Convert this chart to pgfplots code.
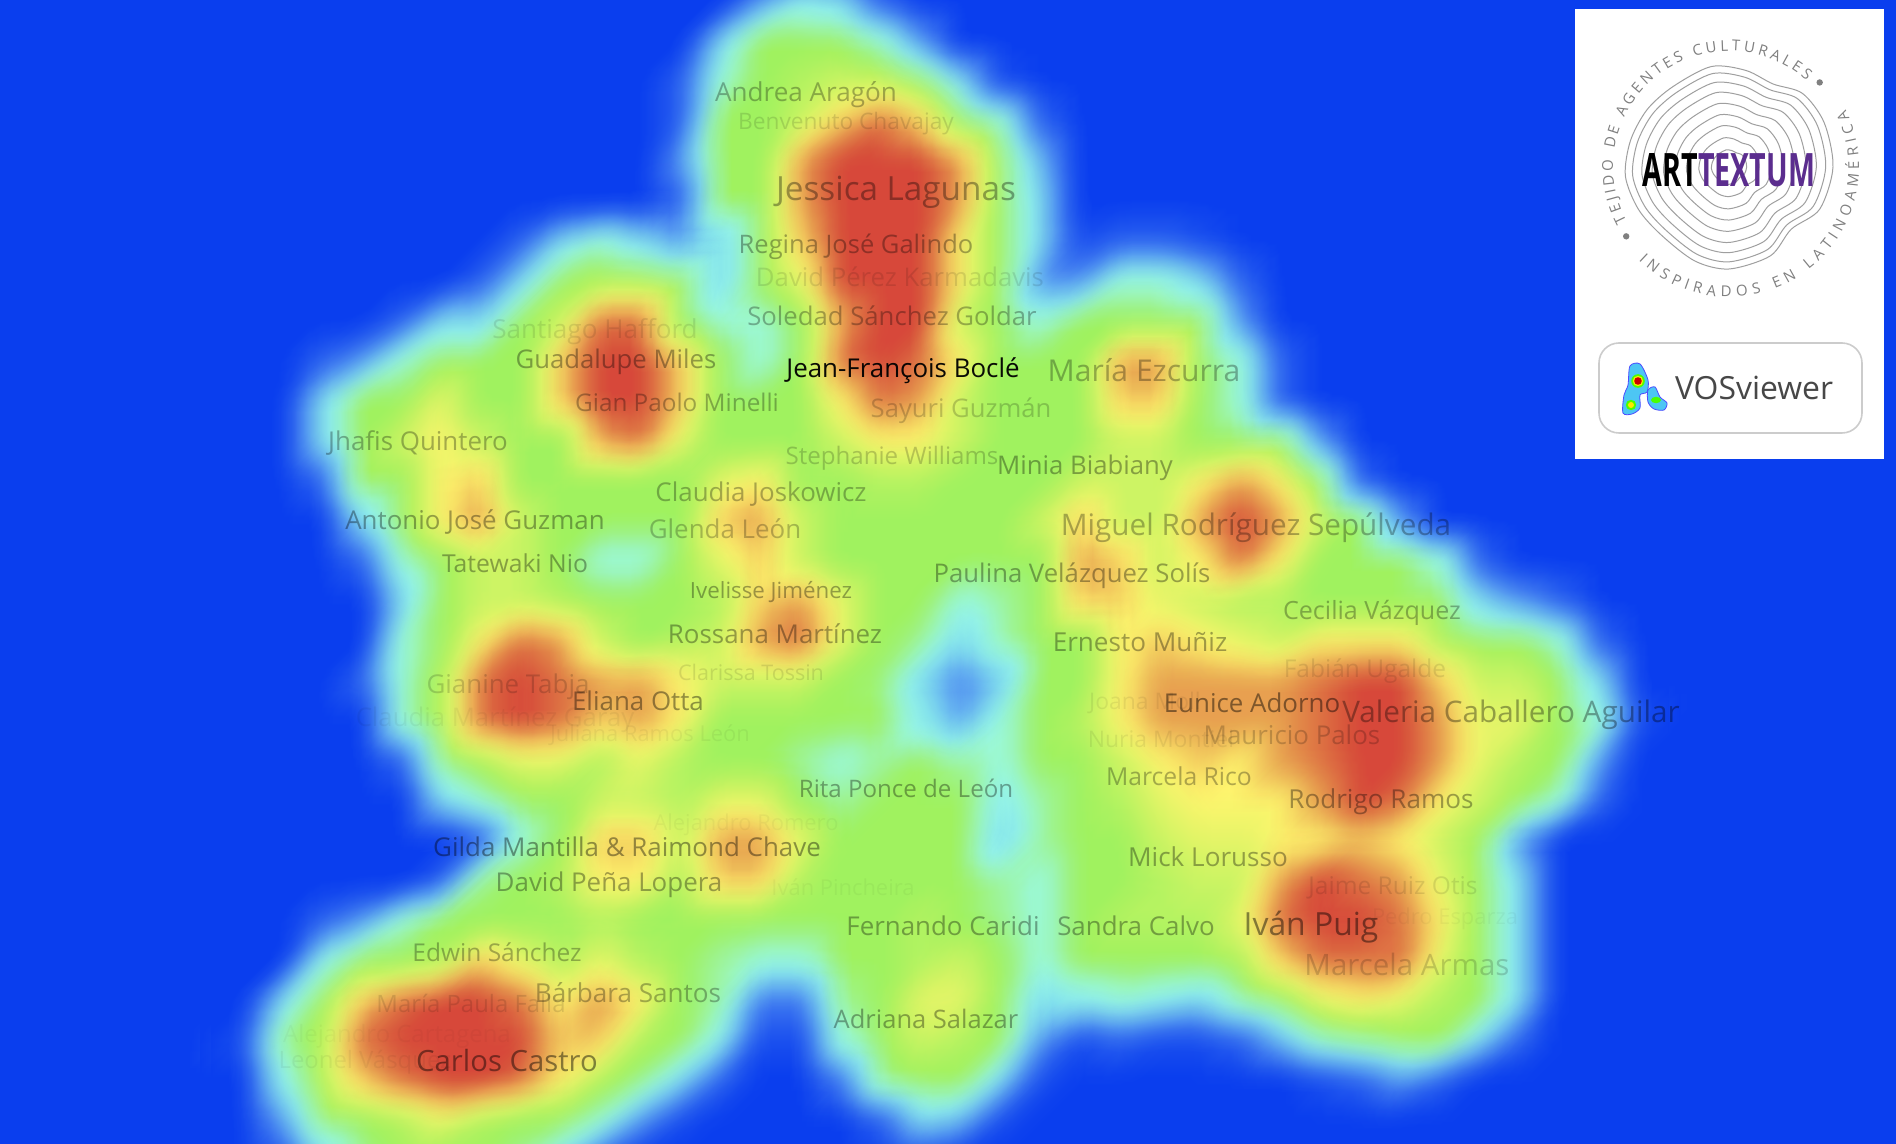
\documentclass[border=0pt]{standalone}
\usepackage{fontspec}
\setmainfont{Open Sans}
\usepackage{pgfplots}
\usepackage{pgfplotstable}
\pgfplotsset{compat=1.18}
\usetikzlibrary{decorations.text}
\usepgfplotslibrary{patchplots}
\definecolor{bg}{RGB}{10,62,238}
\definecolor{purp}{RGB}{91,45,142}
\newcommand{\lab}[5]{\node[opacity=#4,text=black,inner sep=0pt,yshift=-1bp,font=\fontsize{#3}{#3}\selectfont] at (axis cs:#1,#2) {#5};}
\newcommand{\den}[3]{\addplot[surf,shader=interp,mesh/cols=38,point meta=explicit,opacity=#3,fill opacity=#3] table[x index=0,y index=0,x expr={200+(#1)+40*mod(\coordindex,38)},y expr={(#2)-40+40*floor((\coordindex+0.5)/38)},meta index=0] {\density};}
\pgfplotstableread[header=false,row sep=\\]{
0\\0\\0\\0\\0\\0\\0\\0\\0\\0\\
0\\0\\0\\0\\0\\0\\0\\0\\0\\0\\
0\\0\\0\\0\\0\\0\\0\\0\\0\\0\\
0\\0\\0\\0\\0\\0\\0\\0\\
0\\0\\0\\0\\0\\0\\0\\0\\0\\0\\
0\\0\\0\\0\\
2\\3.5\\3\\1\\
0\\0\\0\\0\\0\\0\\0\\0\\0\\0\\
0\\0\\0\\0\\0\\0\\0\\0\\0\\0\\
0\\0\\0\\0\\0\\0\\0\\0\\0\\0\\
0\\0\\0\\
3\\5\\5\\5\\4\\2\\
0\\0\\0\\0\\0\\0\\0\\0\\0\\0\\
0\\0\\0\\0\\0\\0\\0\\0\\0\\
0\\0\\0\\0\\0\\0\\0\\0\\0\\0\\
0\\0\\
1\\4\\5\\5.5\\6\\6\\5\\3\\0.5\\
0\\0\\0\\0\\0\\0\\0\\0\\0\\0\\
0\\0\\0\\0\\0\\0\\0\\
0\\0\\0\\0\\0\\0\\0\\0\\0\\0\\
0\\0\\
1\\5\\5\\6\\7.5\\8.5\\7.5\\5\\4\\1\\
0\\0\\0\\0\\0\\0\\0\\0\\0\\0\\
0\\0\\0\\0\\0\\0\\
0\\0\\0\\0\\0\\0\\0\\0\\0\\0\\
0\\0\\
2\\5\\5\\8\\9\\9\\9\\8\\5\\2.5\\
0\\0\\0\\0\\0\\0\\0\\0\\0\\0\\
0\\0\\0\\0\\0\\0\\
0\\0\\0\\0\\0\\0\\0\\0\\0\\0\\
0\\0\\
1\\5\\5\\8\\9\\9\\9\\8\\5\\3\\
0\\0\\0\\0\\0\\0\\0\\0\\0\\0\\
0\\0\\0\\0\\0\\0\\
0\\0\\0\\0\\0\\0\\0\\0\\
1\\3\\4\\3\\2\\3\\5\\7.5\\9\\9\\9\\7\\5\\3\\0.5\\1\\1\\0.5\\
0\\0\\0\\0\\0\\0\\0\\0\\0\\0\\
0\\0\\
0\\0\\0\\0\\0\\0\\0\\
1\\3\\5\\5.5\\5.5\\5\\3\\5\\6.5\\9\\9\\9\\7\\5\\2\\2\\4\\4\\3\\1\\
0\\0\\0\\0\\0\\0\\0\\0\\0\\0\\
0\\
0\\0\\0\\0\\0\\
1\\3\\3\\5\\6\\8.5\\8.5\\5\\4\\4\\5\\8\\9\\9\\6\\5\\4\\5\\5\\5\\5\\2\\
0\\0\\0\\0\\0\\0\\0\\0\\0\\0\\
0\\
0\\0\\0\\1\\2\\4\\5\\5\\5\\7.5\\9\\9\\7.5\\5\\4\\5\\8.5\\9\\8.5\\7\\5\\5\\5\\8\\8\\5\\4\\1\\0\\0\\0\\0\\0\\0\\0\\0\\0\\0\\
0\\0\\0\\3\\5\\5\\6.5\\5\\5\\7.5\\9\\9\\7.5\\5\\5\\5\\7\\8.5\\8\\6\\5\\5\\5\\7.5\\7.5\\5\\4\\1\\0\\0\\0\\0\\0\\0\\0\\0\\0\\0\\
0\\0\\0\\3\\5\\6\\7\\6\\5\\5\\8\\8.5\\6.5\\5\\5\\5\\6\\7\\7\\6\\5\\5\\5\\6\\6\\5\\5\\5\\2\\0\\0\\0\\0\\0\\0\\0\\0\\0\\
0\\0\\0\\1\\5\\5\\7\\7.5\\5\\5\\5\\5\\5\\6.5\\7\\5\\5\\5.5\\5.5\\5\\5\\5\\6\\6\\6\\7\\8\\7\\5\\1\\0\\0\\0\\0\\0\\0\\0\\0\\
0\\0\\0\\0\\3\\5\\7\\8\\6\\5\\5\\5\\5\\7.5\\8\\6\\5\\5\\5\\5\\5\\6\\7.5\\6\\6\\8\\9\\8\\6\\5\\2\\0\\0\\0\\0\\0\\0\\0\\
0\\0\\0\\0\\1\\4\\5\\6\\6\\5\\4\\4\\5\\6.5\\7.5\\6\\5\\5\\5\\5\\5\\5\\8\\7.5\\6\\7\\8.5\\7\\5\\5\\5\\4\\1\\0\\0\\0\\0\\0\\
0\\0\\0\\0\\0\\3\\5\\6\\6\\5.5\\5\\5\\5\\5.5\\7.5\\8\\6.5\\5\\5\\4\\4.5\\5\\7.5\\7.5\\6.5\\6\\5.5\\5.5\\5\\5\\5\\5\\3\\2\\1\\0\\0\\0\\
0\\0\\0\\0\\0\\4\\5\\7\\8.5\\8\\6\\5\\5.5\\6\\8\\8.5\\6.5\\5\\4.6\\3\\4.4\\5\\5\\7\\7.5\\7\\6.5\\6\\7\\7\\7\\5.5\\5\\5\\4\\1\\0\\0\\
0\\0\\0\\0\\1\\4\\5.5\\8.5\\9\\8.5\\8\\8\\7\\6\\6\\6\\5\\4.8\\3\\1.8\\2.8\\5\\5\\7\\8\\8\\8\\8\\8.5\\9\\9\\7.5\\6\\6\\5\\3\\0\\0\\
0\\0\\0\\0\\0\\4\\5.5\\8.5\\9\\8.5\\7.5\\8\\7\\5\\5\\5\\5\\5\\3.5\\2.2\\4\\5\\5.5\\7\\8\\8\\8\\8\\8.5\\9\\9\\8\\6.5\\6.5\\5\\4\\0.5\\0\\
0\\0\\0\\0\\0\\1\\4.6\\5.5\\6.5\\6.5\\5.5\\6.5\\5.5\\5\\5\\4.5\\4\\4.5\\5\\4.5\\4\\5\\5\\6\\7\\7.5\\7\\8\\8.5\\9\\9\\8\\6.5\\5.5\\5\\2\\0\\0\\
0\\0\\0\\0\\0\\0\\3\\4\\5\\5\\6\\6\\5.5\\6.5\\6.5\\5\\4.5\\5\\5\\5\\3.5\\4.5\\5\\5.5\\6.5\\7\\7\\7\\8\\9\\8.5\\7\\6\\5\\4\\1\\0\\0\\
0\\0\\0\\0\\0\\0\\0\\1\\4\\5\\7.5\\7.5\\6\\8\\8\\6.5\\5\\5\\5\\5\\3\\4.5\\5\\5\\6\\6.5\\6.5\\7\\7\\7.5\\7\\6\\5\\2\\0\\0\\0\\0\\
0\\0\\0\\0\\0\\0\\1\\4.6\\5\\5.5\\7\\7\\5.5\\7.5\\7.5\\5.5\\5\\5\\5\\5\\4.5\\4\\5\\5\\5.5\\6\\6\\8\\9\\8.5\\8\\6.5\\5\\3\\0\\0\\0\\0\\
0\\0\\0\\1\\2\\4\\5\\5\\5\\5\\5.5\\5\\5\\5\\5\\5\\5\\5\\5.5\\5\\4.6\\4\\5\\5.5\\5.5\\5.5\\6.5\\8.5\\9\\9\\8.5\\7\\5\\3\\0\\0\\0\\0\\
0\\0\\0\\3.5\\5\\5\\5.5\\7.5\\6.5\\5.5\\6.5\\5.5\\5\\4.5\\4\\4\\5\\5\\5.5\\6\\5\\4\\5\\5\\5\\5\\5.5\\7.5\\8.5\\8.5\\8.5\\6.5\\5\\3\\0\\0\\0\\0\\
0\\0\\3\\5\\7.5\\8.5\\9\\9\\8.5\\7\\8\\7\\5\\4.4\\1.5\\1.5\\4.6\\5\\6.5\\6.5\\5\\3\\3.5\\4\\3.5\\3\\4.3\\5\\6.5\\7\\6.5\\5.5\\5\\3\\0\\0\\0\\0\\
0\\0.5\\4.4\\5.5\\8.5\\9\\9\\9\\9\\7.5\\7.5\\5.5\\5\\3.5\\0.5\\0.5\\4\\5\\6\\5.5\\5\\2\\0.5\\1\\0.5\\0.5\\1\\2.5\\4\\4.5\\5\\5\\3\\1\\0\\0\\0\\0\\
0\\0\\3.5\\5.5\\7.5\\8.5\\9\\9\\8.5\\7\\5.5\\4.6\\3\\1\\0\\0\\1.5\\4.5\\5\\5\\3\\0.5\\0\\0\\0\\0\\0\\0\\0.5\\1\\2\\1\\0\\0\\0\\0\\0\\0\\
0\\0\\2\\4.7\\5\\5.5\\6.5\\5.5\\5\\5\\4\\2\\0.5\\
0\\0\\0\\0\\
1\\3\\2.5\\0.5\\
0\\0\\0\\0\\0\\0\\0\\0\\0\\0\\
0\\0\\0\\0\\0\\0\\0\\
0\\0\\0.5\\3\\4.5\\5\\5\\5\\4.5\\3\\1\\
0\\0\\0\\0\\0\\0\\0\\
0.5\\
0\\0\\0\\0\\0\\0\\0\\0\\0\\0\\
0\\0\\0\\0\\0\\0\\0\\0\\0\\
}\density
\begin{document}
\begin{tikzpicture}
\useasboundingbox (0,0) rectangle (948bp,572bp);
\begin{axis}[at={(0,0)},anchor=south west,scale only axis,width=948bp,height=572bp,
  xmin=0,xmax=1896,ymin=0,ymax=1144,y dir=reverse,hide axis,
  colormap={vos}{rgb255=(10,62,238) rgb255=(45,100,240) rgb255=(85,150,240) rgb255=(130,225,240) rgb255=(155,250,230) rgb255=(160,242,95) rgb255=(205,244,100) rgb255=(255,245,110) rgb255=(232,160,80) rgb255=(215,72,58)},
  point meta min=0,point meta max=9]
\fill[bg] (axis cs:0,0) rectangle (axis cs:1896,1144);
\den{-11.5}{-11.5}{1}
\den{0}{-11.5}{.5}
\den{11.5}{-11.5}{.3333}
\den{-11.5}{0}{.25}
\den{0}{0}{.2}
\den{11.5}{0}{.1667}
\den{-11.5}{11.5}{.1429}
\den{0}{11.5}{.125}
\den{11.5}{11.5}{.1111}
\lab{806}{93}{13.1}{.3}{Andrea Aragón}
\lab{846}{122}{11.4}{.13}{Benvenuto Chavajay}
\lab{896}{190}{16.7}{.35}{Jessica Lagunas}
\lab{856}{245}{12.8}{.33}{Regina José Galindo}
\lab{900}{275}{12.9}{.11}{David Pérez Karmadavis}
\lab{892}{314}{12.9}{.3}{Soledad Sánchez Goldar}
\lab{903}{369}{13}{.95}{Jean-François Boclé}
\lab{1144}{368}{15.1}{.3}{María Ezcurra}
\lab{961}{409}{12.85}{.2}{Sayuri Guzmán}
\lab{595}{330}{13.1}{.1}{Santiago Hafford}
\lab{616}{360}{12.9}{.35}{Guadalupe Miles}
\lab{677}{400}{12.2}{.3}{Gian Paolo Minelli}
\lab{418}{441}{13}{.3}{Jhafis Quintero}
\lab{892}{456}{12.1}{.2}{Stephanie Williams}
\lab{1085}{466}{12.9}{.35}{Minia Biabiany}
\lab{761}{492}{13}{.3}{Claudia Joskowicz}
\lab{475}{520}{13}{.35}{Antonio José Guzman}
\lab{725}{527}{13}{.25}{Glenda León}
\lab{1256}{526}{14.9}{.3}{Miguel Rodríguez Sepúlveda}
\lab{515}{561}{12.4}{.35}{Tatewaki Nio}
\lab{1072}{574}{12.9}{.35}{Paulina Velázquez Solís}
\lab{771}{590}{11.2}{.35}{Ivelisse Jiménez}
\lab{1372}{611}{12.6}{.3}{Cecilia Vázquez}
\lab{775}{632}{13}{.35}{Rossana Martínez}
\lab{1140}{640}{13.1}{.35}{Ernesto Muñiz}
\lab{751}{670}{10.8}{.11}{Clarissa Tossin}
\lab{1365}{669}{12.3}{.1}{Fabián Ugalde}
\lab{508}{685}{13}{.17}{Gianine Tabja}
\lab{638}{699}{13}{.4}{Eliana Otta}
\lab{1145}{701}{11.5}{.07}{Joana Moll}
\lab{1252}{701}{13}{.45}{Eunice Adorno}
\lab{1511}{713}{14.9}{.35}{Valeria Caballero Aguilar}
\lab{495}{718}{12.9}{.05}{Claudia Martínez Garay}
\lab{1161}{737}{11.5}{.07}{Nuria Montiel}
\lab{1292}{733}{13}{.2}{Mauricio Palos}
\lab{650}{733}{11}{.05}{Juliana Ramos León}
\lab{906}{786}{12.1}{.35}{Rita Ponce de León}
\lab{1179}{774}{12.4}{.3}{Marcela Rico}
\lab{1381}{800}{13.1}{.35}{Rodrigo Ramos}
\lab{746}{823}{11}{.04}{Alejandro Romero}
\lab{627}{845}{13}{.4}{Gilda Mantilla \& Raimond Chave}
\lab{609}{883}{13}{.35}{David Peña Lopera}
\lab{843}{885}{11}{.04}{Iván Pincheira}
\lab{1208}{855}{13.1}{.35}{Mick Lorusso}
\lab{1393}{886}{12.3}{.11}{Jaime Ruiz Otis}
\lab{943}{924}{13}{.35}{Fernando Caridi}
\lab{1136}{924}{13}{.35}{Sandra Calvo}
\lab{1311}{925}{16}{.45}{Iván Puig}
\lab{1445}{917}{11}{.04}{Pedro Esparza}
\lab{1407}{962}{14.8}{.17}{Marcela Armas}
\lab{497}{950}{12.3}{.3}{Edwin Sánchez}
\lab{471}{1001}{12}{.12}{María Paula Falla}
\lab{628}{991}{13.1}{.3}{Bárbara Santos}
\lab{507}{1059}{14.7}{.45}{Carlos Castro}
\lab{397}{1034}{12}{.03}{Alejandro Cartagena}
\lab{365}{1060}{12}{.05}{Leonel Vásquez}
\lab{926}{1017}{12.8}{.35}{Adriana Salazar}
\end{axis}
% logo panel
\begin{scope}[x=1bp,y=1bp]
\fill[white] (787.5,567.5) rectangle (942,342.5);
\begin{scope}[shift={(864.5,488.5)}]
  \foreach \s in {1,.93,.84,.74,.63,.52,.41,.29,.17}{
    \begin{scope}[scale=\s]
    \draw[gray!75,line width=.5pt] plot[smooth cycle] coordinates {(0:52) (25:52.5) (45:52) (62:47) (80:49) (100:51) (125:49) (145:50) (165:51) (185:52) (205:50) (225:48) (250:50) (270:51) (295:49) (315:44) (335:50)};
    \end{scope}
  }
  \node[inner sep=0pt] at (0,-1.5) {\resizebox{86bp}{16.5bp}{\bfseries\color{black}ART\color{purp}TEXTUM}};
  \path[decorate,decoration={text along path,text align=fit to path,text={|\fontsize{7.5}{7.5}\selectfont\color{gray}|TEJIDO DE AGENTES CULTURALES}}] (208:58) arc[start angle=208,end angle=48,radius=58];
  \path[decorate,decoration={text along path,text align=fit to path,text={|\fontsize{7.5}{7.5}\selectfont\color{gray}|INSPIRADOS EN LATINOAMÉRICA}}] (226:65) arc[start angle=226,end angle=386,radius=65];
  \fill[gray] (43:62) circle (1.6);
  \fill[gray] (214:62) circle (1.6);
\end{scope}
\draw[gray!40,line width=.8pt,rounded corners=10bp] (799.5,400.5) rectangle (931,355.5);
\node[text=black!72,inner sep=0pt,font=\fontsize{16}{16}\selectfont] at (877,378) {VOSviewer};
\filldraw[fill=cyan!70!white,draw=blue!70,line width=.4pt] plot[smooth cycle] coordinates {(815,389) (820,390) (824,382) (823.5,376) (820,374.5) (820,368) (816,365) (811.5,365.5) (812,374.5) (814,379.5)};
\filldraw[fill=cyan!70!white,draw=blue!70,line width=.4pt] plot[smooth cycle] coordinates {(824,377) (827.5,378.5) (830,373.5) (833.5,370.5) (832,367) (827,367.5) (824,371)};
\fill[green!70!yellow] (819,381.5) circle (3.4);
\fill[yellow!90!orange] (819,381.5) circle (2.6);
\fill[red!80!black] (819,381.5) circle (1.9);
\fill[green!70!yellow] (815.5,369.5) circle (2.6);
\fill[yellow!90!orange] (815.5,369.5) circle (1.5);
\fill[green!70!yellow] (828,372) ellipse (2.5 and 1.6);
\end{scope}
\end{tikzpicture}
\end{document}
